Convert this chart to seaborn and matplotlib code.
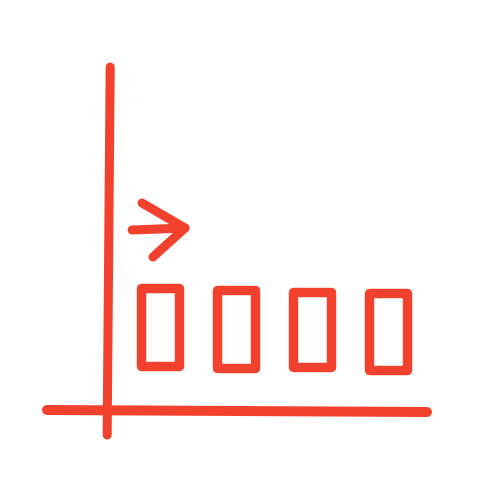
import matplotlib
matplotlib.use("Agg")
import matplotlib.pyplot as plt
import seaborn as sns
import numpy as np

# data: four floating bars (values measured above the x-axis)
categories = ["A", "B", "C", "D"]
bar_top = [121, 119, 117, 116]
bar_bottom = [43, 41, 42, 39]

red = "#F2412D"

sns.set_style("white")
fig = plt.figure(figsize=(5, 5), dpi=100)
ax = fig.add_axes([0, 0, 1, 1])

heights = np.array(bar_top) - np.array(bar_bottom)
sns.barplot(x=categories, y=heights, bottom=bar_bottom, fill=False,
            color=red, edgecolor=red, linewidth=6.8, width=0.5,
            joinstyle="round", ax=ax)
for bar in ax.patches:
    bar.set_linewidth(6.8)

# hand-drawn axes
ax.plot([-1.48, 3.51], [-1, -3], color=red, lw=7.2, solid_capstyle="round")
ax.plot([-0.65, -0.69], [342, -26], color=red, lw=6.5, solid_capstyle="round")

# arrow pointing right
ax.plot([-0.363, 0.332], [179, 181], color=red, lw=6.5, solid_capstyle="round")
ax.plot([-0.232, 0.332, -0.088], [206, 181, 152], color=red, lw=6.5,
        solid_capstyle="round", solid_joinstyle="round")

ax.set_xlim(-2.097, 4.469)
ax.set_ylim(-91, 409)
ax.axis("off")

fig.savefig("out.png", dpi=100, facecolor="white")
